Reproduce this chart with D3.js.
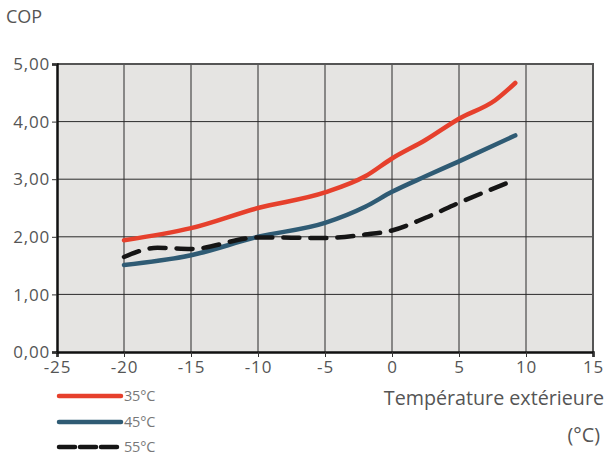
<!DOCTYPE html>
<html><head><meta charset="utf-8">
<script src="https://cdn.jsdelivr.net/npm/d3@7"></script>
<style>body{margin:0;background:#fff;} text{font-family:"Open Sans",sans-serif;}</style>
</head><body>
<svg id="c" width="609" height="457"></svg>
<script>
const xTicks = [-25,-20,-15,-10,-5,0,5,10,15];
const yTicks = [0,1,2,3,4,5];
const temps35 = [-20,-15,-10,-5,-2,0,2.5,5,7.7,9.2];
const cop35   = [1.94,2.15,2.50,2.77,3.05,3.36,3.68,4.05,4.37,4.67];
const temps45 = [-20,-15,-10,-5,-2,0,2.5,5,9.2];
const cop45   = [1.51,1.68,2.00,2.24,2.52,2.78,3.05,3.31,3.76];
const temps55 = [-20,-17.5,-15,-10,-5,-2,0,2.5,5,9.2];
const cop55   = [1.65,1.81,1.79,1.99,1.98,2.04,2.11,2.33,2.59,2.99];
const seriesNames = ["35°C","45°C","55°C"];
const colors = ["#e6402c","#2f5b74","#151515"];

const svg = d3.select("#c");
const x = d3.scaleLinear().domain([-25,15]).range([57,593]);
const y = d3.scaleLinear().domain([0,5]).range([352,64]);

svg.append("rect").attr("x",x(-25)).attr("y",y(5)).attr("width",x(15)-x(-25)).attr("height",y(0)-y(5)).attr("fill","#e5e4e2");

// grid
svg.append("g").selectAll("line").data(xTicks.slice(1,-1)).join("line")
  .attr("x1",d=>x(d)).attr("x2",d=>x(d)).attr("y1",y(0)).attr("y2",y(5))
  .attr("stroke","#2a2a2a").attr("stroke-width",1);
svg.append("g").selectAll("line").data(yTicks.slice(1,-1)).join("line")
  .attr("y1",d=>y(d)).attr("y2",d=>y(d)).attr("x1",x(-25)).attr("x2",x(15))
  .attr("stroke","#2a2a2a").attr("stroke-width",1);
// top/right border
svg.append("path").attr("d",`M${x(-25)},${y(5)}H${x(15)}V${y(0)}`).attr("fill","none").attr("stroke","#555").attr("stroke-width",2);

const xAxis = svg.append("g").attr("transform",`translate(0,${y(0)})`)
  .call(d3.axisBottom(x).tickValues(xTicks).tickSize(5).tickPadding(2).tickFormat(d=>d));
const yAxis = svg.append("g").attr("transform",`translate(${x(-25)},0)`)
  .call(d3.axisLeft(y).tickValues(yTicks).tickSize(5).tickPadding(2).tickFormat(d=>d3.format(".2f")(d).replace(".",",")));
[xAxis,yAxis].forEach(a=>{
  a.attr("font-size",17).attr("font-family","'Open Sans',sans-serif");
  a.select(".domain").attr("stroke","#111").attr("stroke-width",2.5);
  a.selectAll(".tick line").attr("stroke","#333");
  a.selectAll("text").attr("fill","#555").style("font-size","17px").attr("letter-spacing","0.8");
});
xAxis.selectAll("text").attr("dy","0.8em");
yAxis.selectAll("text").attr("dy","0.33em");

const line = d3.line().x(d=>x(d[0])).y(d=>y(d[1])).curve(d3.curveMonotoneX);
const data = [d3.zip(temps35,cop35), d3.zip(temps45,cop45), d3.zip(temps55,cop55)];
data.forEach((d,i)=>{
  svg.append("path").datum(d).attr("d",line).attr("fill","none")
    .attr("stroke",colors[i]).attr("stroke-width",4.5).attr("stroke-linecap","round")
    .attr("stroke-dasharray", i===2 ? "16,11" : null);
});

svg.append("text").attr("x",6).attr("y",23).text("COP").attr("fill","#555").style("font-size","18px");
svg.append("text").attr("x",604).attr("y",405).attr("text-anchor","end").text("Température extérieure").attr("fill","#555").style("font-size","19.7px");
svg.append("text").attr("x",600).attr("y",442).attr("text-anchor","end").text("(°C)").attr("fill","#555").style("font-size","19.7px");

const ly = [396,422,447];
seriesNames.forEach((n,i)=>{
  svg.append("line").attr("x1",59).attr("x2",121).attr("y1",ly[i]).attr("y2",ly[i])
    .attr("stroke",colors[i]).attr("stroke-width",4.5).attr("stroke-linecap","round")
    .attr("stroke-dasharray", i===2 ? "16,5" : null);
  svg.append("text").attr("x",124).attr("y",ly[i]+5).text(n).attr("fill","#777").style("font-size","14.5px").attr("letter-spacing","-0.2");
});
</script>
</body></html>
